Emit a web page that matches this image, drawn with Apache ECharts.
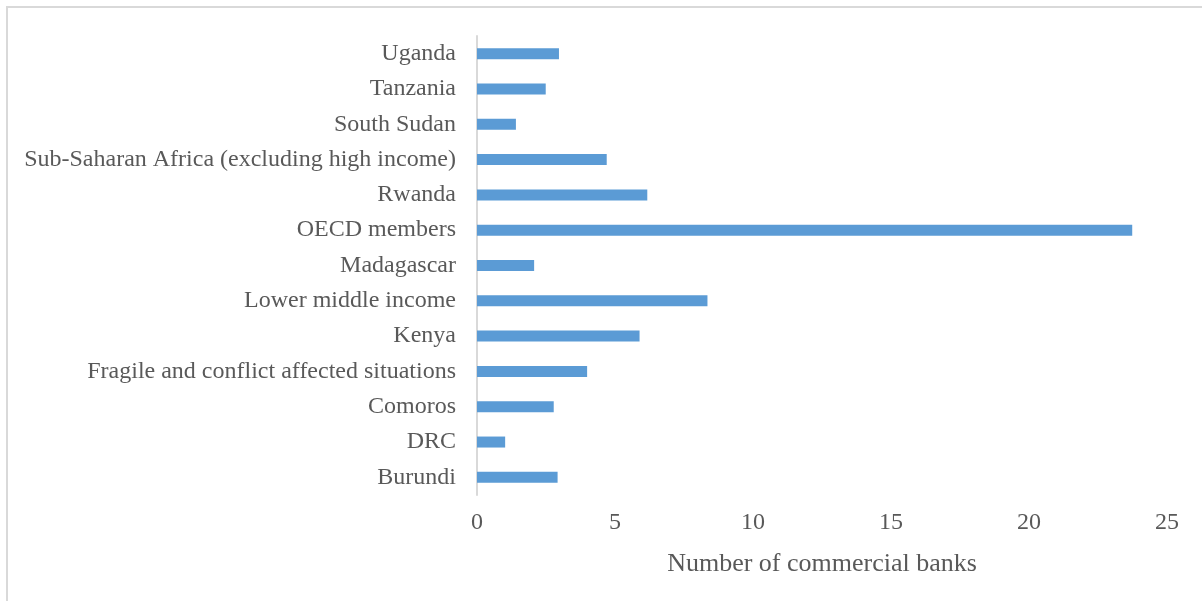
<!DOCTYPE html>
<html>
<head>
<meta charset="utf-8">
<script src="https://cdn.jsdelivr.net/npm/echarts@6/dist/echarts.min.js"></script>
<style>
  html, body { margin: 0; padding: 0; background: #fff; overflow: hidden; width: 1202px; height: 601px; }
  #frame { position: absolute; left: 6px; top: 6px; width: 1220px; height: 620px; border: 2px solid #d9d9d9; box-sizing: border-box; }
  #chart { position: absolute; left: 0; top: 0; width: 1202px; height: 601px; }
</style>
</head>
<body>
<div id="frame"></div>
<div id="chart"></div>
<script>
// Categories listed bottom-to-top (ECharts draws the first category at the bottom)
const categories = [
  'Burundi', 'DRC', 'Comoros', 'Fragile and conflict affected situations',
  'Kenya', 'Lower middle income', 'Madagascar', 'OECD members', 'Rwanda',
  'Sub-Saharan Africa (excluding high income)', 'South Sudan', 'Tanzania', 'Uganda'
];
const banks = [2.92, 1.02, 2.78, 3.99, 5.89, 8.35, 2.07, 23.74, 6.17, 4.70, 1.41, 2.49, 2.97];
const xTicks = [0, 5, 10, 15, 20, 25];

const font = '"Liberation Serif", "Times New Roman", serif';
const chart = echarts.init(document.getElementById('chart'), null, { renderer: 'canvas' });
chart.setOption({
  backgroundColor: 'transparent',
  animation: false,
  grid: { left: 477, right: 35, top: 36, bottom: 106, containLabel: false },
  xAxis: {
    type: 'value',
    min: xTicks[0],
    max: xTicks[xTicks.length - 1],
    interval: xTicks[1] - xTicks[0],
    name: 'Number of commercial banks',
    nameLocation: 'middle',
    nameGap: 56,
    nameTextStyle: { fontFamily: font, fontSize: 26, color: '#595959' },
    axisLine: { show: false },
    axisTick: { show: false },
    splitLine: { show: false },
    axisLabel: { fontFamily: font, fontSize: 24, color: '#595959', margin: 16 }
  },
  yAxis: {
    type: 'category',
    data: categories,
    axisLine: { show: true, lineStyle: { color: '#d9d9d9', width: 2 } },
    axisTick: { show: false },
    axisLabel: { fontFamily: font, fontSize: 24, color: '#595959', margin: 21 }
  },
  series: [{
    type: 'bar',
    data: banks,
    barWidth: 11,
    itemStyle: { color: '#5b9bd5' }
  }]
});
</script>
</body>
</html>
